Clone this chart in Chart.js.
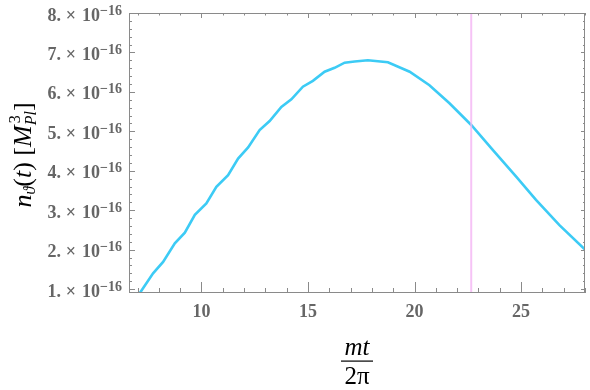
<!DOCTYPE html>
<html>
<head>
<meta charset="utf-8">
<script src="https://cdn.jsdelivr.net/npm/chart.js@4"></script>
<style>
  html, body { margin: 0; padding: 0; background: #fff; }
  #wrap { width: 590px; height: 390px; }
</style>
</head>
<body>
<div id="wrap"><canvas id="chart" width="590" height="390"></canvas></div>
<script>
// Values (y in units of 10^-16 M_Pl^3)
const mtOver2pi = [7.11, 7.73, 8.2, 8.75, 9.22, 9.69, 10.23, 10.70, 11.25, 11.72, 12.19, 12.73, 13.2, 13.75,
  14.22, 14.76, 15.23, 15.78, 16.25, 16.72, 17.19, 17.81, 18.75, 19.77, 20.70, 21.64, 22.66, 23.67,
  24.77, 25.70, 26.80, 28.0];
const nTheta = [0.9, 1.40, 1.69, 2.16, 2.43, 2.88, 3.17, 3.59, 3.89, 4.31, 4.59, 5.03, 5.26, 5.62,
  5.81, 6.13, 6.28, 6.51, 6.61, 6.74, 6.77, 6.80, 6.75, 6.51, 6.17, 5.71, 5.16, 4.53,
  3.85, 3.26, 2.62, 2.0];
const markerX = 22.66;
const xRange = [6.6, 28.0];
const yRange = [0.9, 8.0];
const xMajor = [10, 15, 20, 25];
const xMinorStep = 1;
const yMajor = [1, 2, 3, 4, 5, 6, 7, 8];
const yMinorStep = 0.2;
const yExponent = '\u221216';

const frameColor = '#8a8a8a';
const labelColor = '#666666';

// Frame, Mathematica-style ticks, labels
const framePlugin = {
  id: 'frame',
  afterDraw(chart) {
    const ctx = chart.ctx;
    const a = chart.chartArea;
    const xs = chart.scales.x, ys = chart.scales.y;
    ctx.save();
    ctx.strokeStyle = frameColor;
    ctx.lineWidth = 1;
    ctx.strokeRect(a.left + 0.5, a.top + 0.5, a.right - a.left - 1, a.bottom - a.top - 1);

    ctx.beginPath();
    // x ticks
    for (let v = Math.ceil(xRange[0]); v <= xRange[1]; v += xMinorStep) {
      const px = Math.round(xs.getPixelForValue(v)) + 0.5;
      const major = xMajor.includes(v);
      ctx.moveTo(px, a.bottom); ctx.lineTo(px, a.bottom - (major ? 11 : 5));
      ctx.moveTo(px, a.top); ctx.lineTo(px, a.top + (major ? 5 : 2.5));
    }
    // y ticks
    for (let i = 0; ; i++) {
      const v = +(yMajor[0] + i * yMinorStep).toFixed(2);
      if (v > yRange[1] + 1e-9) break;
      const py = Math.round(ys.getPixelForValue(v)) + 0.5;
      const major = Math.abs(v - Math.round(v)) < 1e-6;
      ctx.moveTo(a.left, py); ctx.lineTo(a.left + (major ? 6 : 3), py);
      ctx.moveTo(a.right, py); ctx.lineTo(a.right - (major ? 4 : 2), py);
    }
    ctx.stroke();

    // x tick labels
    ctx.fillStyle = labelColor;
    ctx.font = 'bold 18px "Liberation Serif"';
    ctx.textAlign = 'center';
    ctx.textBaseline = 'alphabetic';
    xMajor.forEach(v => {
      ctx.fillText(String(v), xs.getPixelForValue(v), 317);
    });

    // y tick labels: "v.×10^-16", pieces placed like Mathematica spacing
    yMajor.forEach(v => {
      const py = ys.getPixelForValue(v);
      ctx.textAlign = 'right';
      ctx.font = 'bold 14px "Liberation Serif"';
      ctx.fillText(yExponent, 122, py + 1.5);
      ctx.font = 'bold 18px "Liberation Serif"';
      ctx.fillText('10', 100, py + 7.5);
      ctx.textAlign = 'center';
      ctx.fillText('\u00d7', 71, py + 7.5);
      ctx.textAlign = 'right';
      ctx.fillText(v + '.', 61, py + 7.5);
    });

    // x axis title: mt / 2π
    ctx.fillStyle = '#000';
    ctx.textAlign = 'center';
    ctx.font = 'italic 25px "Liberation Serif"';
    ctx.fillText('mt', 357, 355);
    ctx.fillRect(341, 360.5, 32, 1.2);
    ctx.font = '25px "Liberation Serif"';
    ctx.fillText('2\u03c0', 357, 384);

    // y axis title: n_ϑ(t) [M_Pl^3]
    ctx.translate(31, 155);
    ctx.rotate(-Math.PI / 2);
    const big = 'italic 26px "Liberation Serif"';
    const rom = '26px "Liberation Serif"';
    const small = 'italic 16px "Liberation Serif"';
    const parts = [
      { t: 'n', f: big, dy: 0 },
      { t: '\u03d1', f: small, dy: 4 },
      { t: '(', f: rom, dy: 0 },
      { t: 't', f: big, dy: 0 },
      { t: ')', f: rom, dy: 0 },
      { t: ' [', f: rom, dy: 0 },
      { t: 'M', f: big, dy: 0 },
      { t: 'Pl', f: small, dy: 5, sup: '3' },
      { t: ']', f: rom, dy: 0 }
    ];
    let total = 0;
    parts.forEach(p => { ctx.font = p.f; p.w = ctx.measureText(p.t).width; total += p.w; });
    let cx = -total / 2;
    ctx.textAlign = 'left';
    parts.forEach(p => {
      ctx.font = p.f;
      ctx.fillText(p.t, cx, p.dy);
      if (p.sup) {
        ctx.font = '16px "Liberation Serif"';
        ctx.fillText(p.sup, cx + 2, -11);
      }
      cx += p.w;
    });
    ctx.restore();
  }
};

const ctx = document.getElementById('chart').getContext('2d');
new Chart(ctx, {
  type: 'line',
  data: {
    datasets: [
      {
        data: [{ x: markerX, y: yRange[0] }, { x: markerX, y: yRange[1] }],
        borderColor: 'rgba(244, 180, 244, 0.8)',
        borderWidth: 2,
        pointRadius: 0
      },
      {
        data: mtOver2pi.map((x, i) => ({ x: x, y: nTheta[i] })),
        borderColor: '#3ccbf5',
        borderWidth: 2.6,
        pointRadius: 0,
        tension: 0
      }
    ]
  },
  options: {
    responsive: false,
    animation: false,
    devicePixelRatio: 1,
    layout: { padding: { left: 129, top: 13, right: 5, bottom: 97 } },
    plugins: { legend: { display: false }, tooltip: { enabled: false } },
    scales: {
      x: { type: 'linear', min: xRange[0], max: xRange[1], display: false },
      y: { type: 'linear', min: yRange[0], max: yRange[1], display: false }
    }
  },
  plugins: [framePlugin]
});
</script>
</body>
</html>
